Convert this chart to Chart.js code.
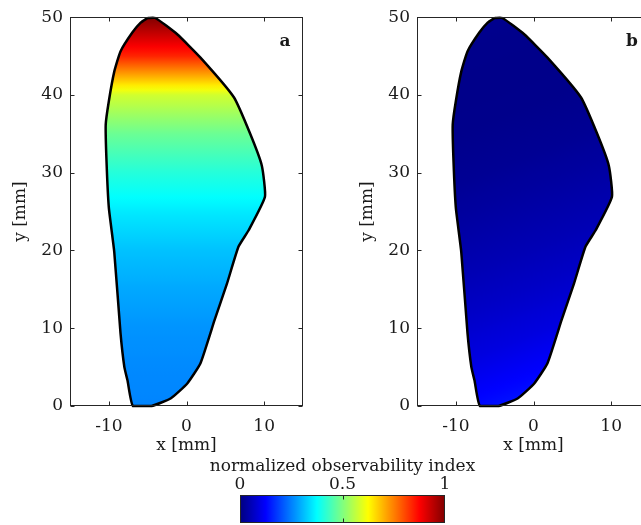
<!DOCTYPE html>
<html lang="en">
<head>
<meta charset="UTF-8">
<title>Observability index</title>
<script src="https://cdn.jsdelivr.net/npm/chart.js@4"></script>
<style>
  html, body { margin: 0; padding: 0; background: #fff; overflow: hidden; }
  #page { position: relative; width: 641px; height: 525px; overflow: hidden; }
  canvas { position: absolute; }
  #chartA { left: 0; top: 0; }
  #chartB { left: 347px; top: 0; }
  #colorbar { left: 190px; top: 445px; }
</style>
</head>
<body>
<div id="page">
  <canvas id="chartA" width="320" height="460"></canvas>
  <canvas id="chartB" width="320" height="460"></canvas>
  <canvas id="colorbar" width="300" height="80"></canvas>
</div>
<script>
// outline of the region [mm], clockwise from the top
const shapeX = [-5.0, -4.0, -1.2, 1.8, 6.1, 8.2, 9.7, 10.1, 8.0, 6.7, 5.2, 3.6, 1.8, 0.1, -2.0, -4.5, -6.9, -7.6, -8.0, -8.5, -9.3, -10.0, -10.3, -10.4, -10.0, -9.3, -8.5, -7.0, -5.9, -5.0];
const shapeY = [49.9, 49.9, 47.8, 44.8, 39.7, 35.0, 30.9, 26.9, 22.6, 20.5, 15.7, 11.0, 5.5, 2.9, 1.0, 0.0, 0.0, 3.3, 5.0, 9.4, 19.8, 25.5, 31.5, 36.2, 39.2, 43.0, 45.6, 48.0, 49.3, 49.9];

// normalized observability index read at these heights [mm]
const levelY = [0, 5, 10, 15, 20, 25, 30, 35, 40, 45, 50];
const indexA = [0.255, 0.26, 0.27, 0.29, 0.315, 0.355, 0.41, 0.48, 0.58, 0.84, 1.0];
const indexB = [0.17, 0.13, 0.095, 0.07, 0.05, 0.035, 0.02, 0.012, 0.01, 0.012, 0.02];

const xTicks = [-10, 0, 10];
const yTicks = [0, 10, 20, 30, 40, 50];
const barTicks = [0, 0.5, 1];

const font = { family: '"DejaVu Serif", serif', size: 17 };
const ink = '#1a1a1a';

function jet(v) {
  const c = k => Math.round(255 * Math.min(1, Math.max(0, 1.5 - Math.abs(4 * v - k))));
  return 'rgb(' + c(3) + ',' + c(2) + ',' + c(1) + ')';
}

// gradient running from the lowest level to the highest; tilt = x at bottom / top end
function levelGradient(chart, values, tilt) {
  const { ctx, chartArea, scales } = chart;
  if (!chartArea) return 'rgba(0,0,0,0)';
  const y0 = levelY[0], y1 = levelY[levelY.length - 1];
  const g = ctx.createLinearGradient(
    scales.x.getPixelForValue(tilt[0]), scales.y.getPixelForValue(y0),
    scales.x.getPixelForValue(tilt[1]), scales.y.getPixelForValue(y1));
  for (let i = 0; i < levelY.length - 1; i++) {
    for (let s = 0; s < 8; s++) {
      const f = s / 8;
      const yy = levelY[i] + f * (levelY[i + 1] - levelY[i]);
      const v = values[i] + f * (values[i + 1] - values[i]);
      g.addColorStop((yy - y0) / (y1 - y0), jet(v));
    }
  }
  g.addColorStop(1, jet(values[values.length - 1]));
  return g;
}

function jetGradient(chart) {
  const { ctx, chartArea, scales } = chart;
  if (!chartArea) return 'rgba(0,0,0,0)';
  const a = barTicks[0], b = barTicks[barTicks.length - 1];
  const g = ctx.createLinearGradient(scales.x.getPixelForValue(a), 0, scales.x.getPixelForValue(b), 0);
  for (let i = 0; i <= 64; i++) g.addColorStop(i / 64, jet(a + (b - a) * i / 64));
  return g;
}

// box around the plot with inward ticks, plus panel letter / colorbar title
const framePlugin = {
  id: 'frame',
  afterDraw(chart, args, opts) {
    const { ctx, chartArea: a, scales } = chart;
    const L = Math.round(a.left) + 0.5, R = Math.round(a.right) - 0.5;
    const T = Math.round(a.top) + 0.5, B = Math.round(a.bottom) - 0.5;
    const len = 4;
    ctx.save();
    ctx.strokeStyle = '#262626';
    ctx.lineWidth = 1;
    ctx.strokeRect(L, T, R - L, B - T);
    ctx.beginPath();
    (opts.xMarks || []).forEach(v => {
      const px = Math.round(scales.x.getPixelForValue(v)) + 0.5;
      ctx.moveTo(px, T); ctx.lineTo(px, T + len);
      ctx.moveTo(px, B); ctx.lineTo(px, B - len);
    });
    (opts.yMarks || []).forEach(v => {
      const py = Math.round(scales.y.getPixelForValue(v)) + 0.5;
      ctx.moveTo(L, py); ctx.lineTo(L + len, py);
      ctx.moveTo(R, py); ctx.lineTo(R - len, py);
    });
    ctx.stroke();
    ctx.fillStyle = ink;
    ctx.textAlign = 'center';
    ctx.textBaseline = 'middle';
    if (opts.label) {
      ctx.font = 'bold 17px "DejaVu Serif", serif';
      ctx.fillText(opts.label, a.right - 18, a.top + 24);
    }
    if (opts.title) {
      ctx.font = '17px "DejaVu Serif", serif';
      ctx.fillText(opts.title, (a.left + a.right) / 2, 22);
    }
    ctx.restore();
  }
};

function panel(id, values, tilt, label) {
  return new Chart(document.getElementById(id), {
    type: 'scatter',
    data: {
      datasets: [{
        data: shapeX.map((x, i) => ({ x: x, y: shapeY[i] })),
        showLine: true,
        fill: 'shape',
        borderColor: '#000',
        borderWidth: 2.5,
        pointRadius: 0,
        tension: 0.15,
        clip: 6,
        backgroundColor: c => levelGradient(c.chart, values, tilt)
      }]
    },
    options: {
      responsive: false,
      animation: false,
      layout: { padding: { top: 16, right: 17, left: 0, bottom: 0 } },
      plugins: {
        legend: { display: false },
        tooltip: { enabled: false },
        frame: { label: label, xMarks: xTicks, yMarks: yTicks }
      },
      scales: {
        x: {
          type: 'linear', min: -15, max: 15,
          afterBuildTicks: s => { s.ticks = xTicks.map(value => ({ value })); },
          afterFit: s => { s.height = 54; },
          grid: { display: false, drawTicks: false },
          border: { display: false },
          ticks: { font: font, color: ink, padding: 10, maxRotation: 0 },
          title: { display: true, text: 'x [mm]', font: font, color: ink, padding: { top: 0, bottom: 4 } }
        },
        y: {
          type: 'linear', min: 0, max: 50,
          afterBuildTicks: s => { s.ticks = yTicks.map(value => ({ value })); },
          afterFit: s => { s.width = 70; },
          grid: { display: false, drawTicks: false },
          border: { display: false },
          ticks: { font: font, color: ink, padding: 7 },
          title: { display: true, text: 'y [mm]', font: font, color: ink, padding: { top: 10, bottom: 0 } }
        }
      }
    },
    plugins: [framePlugin]
  });
}

panel('chartA', indexA, [0, 0], 'a');
panel('chartB', indexB, [6, -14], 'b');

new Chart(document.getElementById('colorbar'), {
  type: 'bar',
  data: {
    labels: [''],
    datasets: [{
      data: [[barTicks[0], barTicks[barTicks.length - 1]]],
      backgroundColor: c => jetGradient(c.chart),
      borderWidth: 0,
      barPercentage: 1,
      categoryPercentage: 1
    }]
  },
  options: {
    indexAxis: 'y',
    responsive: false,
    animation: false,
    layout: { padding: { left: 50, right: 45, top: 0, bottom: 2 } },
    plugins: {
      legend: { display: false },
      tooltip: { enabled: false },
      frame: { xMarks: [0.5], title: 'normalized observability index' }
    },
    scales: {
      x: {
        type: 'linear', position: 'top', min: 0, max: 1,
        afterBuildTicks: s => { s.ticks = barTicks.map(value => ({ value })); },
        afterFit: s => { s.height = 50; },
        grid: { display: false, drawTicks: false },
        border: { display: false },
        ticks: { font: font, color: ink, padding: 0, maxRotation: 0, callback: v => String(v) }
      },
      y: { display: false }
    }
  },
  plugins: [framePlugin]
});
</script>
</body>
</html>
